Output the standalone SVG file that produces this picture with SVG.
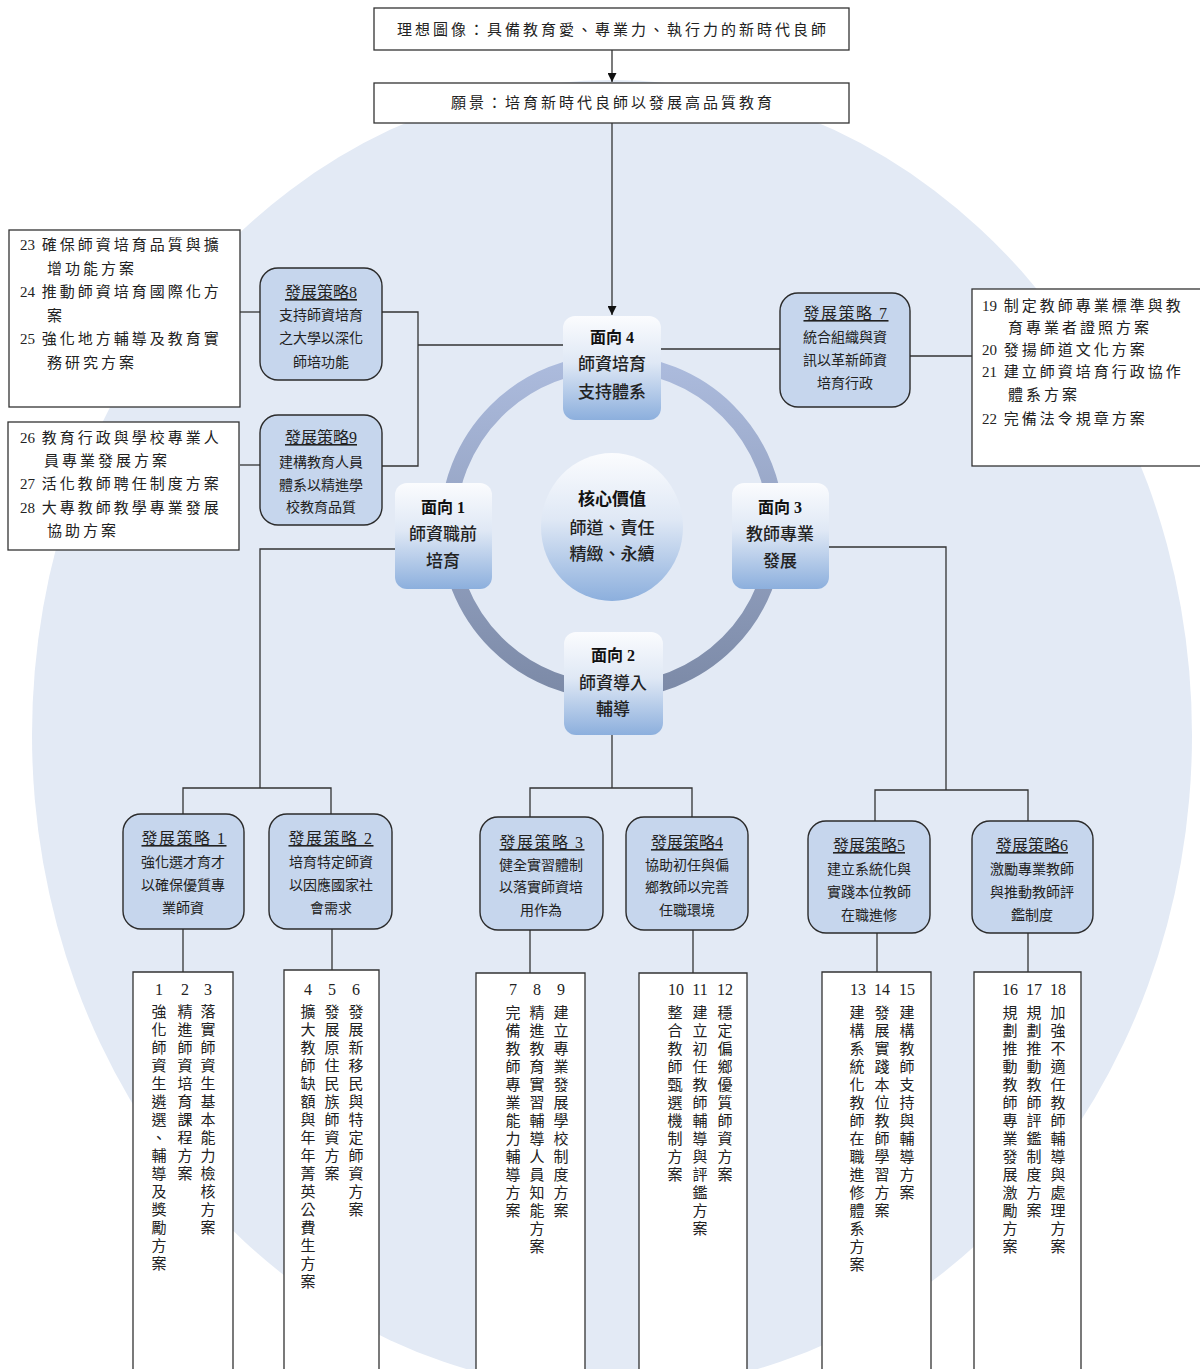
<svg xmlns="http://www.w3.org/2000/svg" width="1200" height="1369" viewBox="0 0 1200 1369">
<defs>
<linearGradient id="faceGrad" x1="0" y1="0" x2="0" y2="1">
<stop offset="0" stop-color="#fbfcfe"/>
<stop offset="0.45" stop-color="#dfe8f5"/>
<stop offset="1" stop-color="#8cafdd"/>
</linearGradient>
<linearGradient id="ringGrad" gradientUnits="userSpaceOnUse" x1="0" y1="363" x2="0" y2="691">
<stop offset="0" stop-color="#acbbdd"/>
<stop offset="1" stop-color="#7c8aa7"/>
</linearGradient>
<marker id="arr" viewBox="0 0 10 10" refX="10" refY="5" markerWidth="9" markerHeight="9" markerUnits="userSpaceOnUse" orient="auto">
<path d="M0,0 L10,5 L0,10 z" fill="#111"/>
</marker>
<style>
.box{fill:#fff;stroke:#333;stroke-width:1.3}
.strat{fill:#c6d6ed;stroke:#2b2b2b;stroke-width:1.4}
.face{fill:url(#faceGrad)}
.ln{stroke:#333;stroke-width:1.3;fill:none}
.ming{font-family:"Liberation Serif","Noto Sans CJK TC",serif;fill:#222}
.list{font-size:15px;letter-spacing:3px}
.n{letter-spacing:0}
.hd{font-size:15px;letter-spacing:3px;text-anchor:middle}
.stt{font-family:"Liberation Serif","Noto Sans CJK TC",serif;fill:#222;font-size:16px;text-anchor:middle;text-decoration:underline}
.sp{letter-spacing:1.5px}
.stb{font-family:"Noto Sans CJK TC",sans-serif;fill:#222;font-size:14px;text-anchor:middle}
.ft{font-family:"Liberation Serif","Noto Sans CJK TC",sans-serif;font-weight:bold;font-size:16px;text-anchor:middle;fill:#111}
.fb{font-family:"Noto Sans CJK TC",sans-serif;font-weight:500;font-size:17px;text-anchor:middle;fill:#222}
.vn{font-family:"Liberation Serif",serif;font-size:16px;text-anchor:middle;fill:#222}
.vt{font-family:"Noto Sans CJK TC",sans-serif;font-size:15px;letter-spacing:3px;writing-mode:vertical-rl;fill:#222}
</style>
</defs>

<g id="background">
<ellipse cx="612" cy="735" rx="580" ry="655" fill="#e3eaf5"/>
<circle cx="612" cy="527" r="164" fill="none" stroke="url(#ringGrad)" stroke-width="16"/>
</g>

<g id="connectors">
<line class="ln" x1="612" y1="50" x2="612" y2="82" marker-end="url(#arr)"/>
<line class="ln" x1="612" y1="123" x2="612" y2="315" marker-end="url(#arr)"/>
<polyline class="ln" points="240,312 260,312"/>
<polyline class="ln" points="240,465 260,465"/>
<polyline class="ln" points="382,312 418,312 418,466 382,466"/>
<polyline class="ln" points="418,345 563,345"/>
<polyline class="ln" points="661,349 780,349"/>
<polyline class="ln" points="910,356 972,356"/>
<polyline class="ln" points="395,549 260,549 260,788"/>
<polyline class="ln" points="183,814 183,788 331,788 331,814"/>
<polyline class="ln" points="612,735 612,788"/>
<polyline class="ln" points="530,817 530,788 692,788 692,817"/>
<polyline class="ln" points="829,547 946,547 946,790"/>
<polyline class="ln" points="875,821 875,790 1028,790 1028,821"/>
<line class="ln" x1="183" y1="929" x2="183" y2="972"/>
<line class="ln" x1="332" y1="929" x2="332" y2="970"/>
<line class="ln" x1="530" y1="930" x2="530" y2="973"/>
<line class="ln" x1="693" y1="930" x2="693" y2="973"/>
<line class="ln" x1="877" y1="933" x2="877" y2="972"/>
<line class="ln" x1="1028" y1="933" x2="1028" y2="972"/>
</g>

<g id="ideal">
<rect class="box" x="374" y="8" width="475" height="42"/>
<text class="ming hd" x="613" y="34.5">理想圖像：具備教育愛、專業力、執行力的新時代良師</text>
</g>
<g id="vision">
<rect class="box" x="374" y="83" width="475" height="40"/>
<text class="ming hd" x="613" y="107.5">願景：培育新時代良師以發展高品質教育</text>
</g>

<g id="core">
<ellipse cx="612" cy="527" rx="71" ry="74" fill="url(#faceGrad)"/>
<text class="ft" x="612" y="505" style="font-size:17px">核心價值</text>
<text class="fb" x="612" y="533.5">師道、責任</text>
<text class="fb" x="612" y="559.5">精緻、永續</text>
</g>

<g id="face4">
<rect class="face" x="563" y="316" width="98" height="104" rx="12"/>
<text class="ft" x="612" y="343">面向 4</text>
<text class="fb" x="612" y="369.5">師資培育</text>
<text class="fb" x="612" y="398">支持體系</text>
</g>
<g id="face1">
<rect class="face" x="395" y="483" width="97" height="106" rx="12"/>
<text class="ft" x="443" y="513">面向 1</text>
<text class="fb" x="443" y="539.5">師資職前</text>
<text class="fb" x="443" y="566.5">培育</text>
</g>
<g id="face3">
<rect class="face" x="732" y="483" width="97" height="106" rx="12"/>
<text class="ft" x="780" y="513">面向 3</text>
<text class="fb" x="780" y="539.5">教師專業</text>
<text class="fb" x="780" y="566.5">發展</text>
</g>
<g id="face2">
<rect class="face" x="564" y="632" width="99" height="103" rx="12"/>
<text class="ft" x="613" y="661">面向 2</text>
<text class="fb" x="613" y="688.5">師資導入</text>
<text class="fb" x="613" y="714.5">輔導</text>
</g>

<g id="list23">
<rect class="box" x="9" y="230" width="231" height="177"/>
<text class="ming list" x="20" y="249.5"><tspan class="n">23</tspan> 確保師資培育品質與擴</text>
<text class="ming list" x="47" y="273.5">增功能方案</text>
<text class="ming list" x="20" y="296.5"><tspan class="n">24</tspan> 推動師資培育國際化方</text>
<text class="ming list" x="47" y="320.5">案</text>
<text class="ming list" x="20" y="343.5"><tspan class="n">25</tspan> 強化地方輔導及教育實</text>
<text class="ming list" x="47" y="367.5">務研究方案</text>
</g>
<g id="list26">
<rect class="box" x="8" y="422" width="231" height="128"/>
<text class="ming list" x="20" y="442.5"><tspan class="n">26</tspan> 教育行政與學校專業人</text>
<text class="ming list" x="44" y="465.5">員專業發展方案</text>
<text class="ming list" x="20" y="488.5"><tspan class="n">27</tspan> 活化教師聘任制度方案</text>
<text class="ming list" x="20" y="512.5"><tspan class="n">28</tspan> 大專教師教學專業發展</text>
<text class="ming list" x="47" y="535.5">協助方案</text>
</g>
<g id="list19">
<rect class="box" x="972" y="289" width="240" height="177"/>
<text class="ming list" x="982" y="310.5"><tspan class="n">19</tspan> 制定教師專業標準與教</text>
<text class="ming list" x="1008" y="332.5">育專業者證照方案</text>
<text class="ming list" x="982" y="354.5"><tspan class="n">20</tspan> 發揚師道文化方案</text>
<text class="ming list" x="982" y="376.5"><tspan class="n">21</tspan> 建立師資培育行政協作</text>
<text class="ming list" x="1008" y="399.5">體系方案</text>
<text class="ming list" x="982" y="423.5"><tspan class="n">22</tspan> 完備法令規章方案</text>
</g>

<g id="strategy8">
<rect class="strat" x="260" y="268" width="122" height="112" rx="18"/>
<text class="stt" x="321" y="298">發展策略8</text>
<text class="stb" x="321" y="320">支持師資培育</text>
<text class="stb" x="321" y="343">之大學以深化</text>
<text class="stb" x="321" y="367">師培功能</text>
</g>
<g id="strategy9">
<rect class="strat" x="260" y="415" width="122" height="110" rx="18"/>
<text class="stt" x="321" y="443">發展策略9</text>
<text class="stb" x="321" y="467">建構教育人員</text>
<text class="stb" x="321" y="490">體系以精進學</text>
<text class="stb" x="321" y="512">校教育品質</text>
</g>
<g id="strategy7">
<rect class="strat" x="780" y="293" width="130" height="114" rx="18"/>
<text class="stt sp" x="846" y="319">發展策略 7</text>
<text class="stb" x="845" y="342">統合組織與資</text>
<text class="stb" x="845" y="365">訊以革新師資</text>
<text class="stb" x="845" y="388">培育行政</text>
</g>

<g id="strategy1">
<rect class="strat" x="123" y="814" width="121" height="115" rx="18"/>
<text class="stt sp" x="184" y="844">發展策略 1</text>
<text class="stb" x="183" y="867">強化選才育才</text>
<text class="stb" x="183" y="890">以確保優質專</text>
<text class="stb" x="183" y="913">業師資</text>
</g>
<g id="strategy2">
<rect class="strat" x="269" y="814" width="123" height="115" rx="18"/>
<text class="stt sp" x="331" y="844">發展策略 2</text>
<text class="stb" x="331" y="867">培育特定師資</text>
<text class="stb" x="331" y="890">以因應國家社</text>
<text class="stb" x="331" y="913">會需求</text>
</g>
<g id="strategy3">
<rect class="strat" x="480" y="817" width="123" height="113" rx="18"/>
<text class="stt sp" x="542" y="848">發展策略 3</text>
<text class="stb" x="541" y="870">健全實習體制</text>
<text class="stb" x="541" y="892">以落實師資培</text>
<text class="stb" x="541" y="915">用作為</text>
</g>
<g id="strategy4">
<rect class="strat" x="626" y="817" width="122" height="113" rx="18"/>
<text class="stt" x="687" y="848">發展策略4</text>
<text class="stb" x="687" y="870">協助初任與偏</text>
<text class="stb" x="687" y="892">鄉教師以完善</text>
<text class="stb" x="687" y="915">任職環境</text>
</g>
<g id="strategy5">
<rect class="strat" x="808" y="821" width="122" height="112" rx="18"/>
<text class="stt" x="869" y="851">發展策略5</text>
<text class="stb" x="869" y="874">建立系統化與</text>
<text class="stb" x="869" y="897">實踐本位教師</text>
<text class="stb" x="869" y="920">在職進修</text>
</g>
<g id="strategy6">
<rect class="strat" x="972" y="821" width="121" height="112" rx="18"/>
<text class="stt" x="1032" y="851">發展策略6</text>
<text class="stb" x="1032" y="874">激勵專業教師</text>
<text class="stb" x="1032" y="897">與推動教師評</text>
<text class="stb" x="1032" y="920">鑑制度</text>
</g>

<g id="plans1-3">
<path class="box" d="M133,1370 V972 H233 V1370"/>
<text class="vn" x="159" y="995">1</text>
<text class="vn" x="185" y="995">2</text>
<text class="vn" x="208" y="995">3</text>
<text class="vt" x="159" y="1003.5">強化師資生遴選、輔導及獎勵方案</text>
<text class="vt" x="185" y="1003.5">精進師資培育課程方案</text>
<text class="vt" x="208" y="1003.5">落實師資生基本能力檢核方案</text>
</g>
<g id="plans4-6">
<path class="box" d="M284,1370 V970 H379 V1370"/>
<text class="vn" x="308" y="995">4</text>
<text class="vn" x="332" y="995">5</text>
<text class="vn" x="356" y="995">6</text>
<text class="vt" x="308" y="1003.5">擴大教師缺額與年年菁英公費生方案</text>
<text class="vt" x="332" y="1003.5">發展原住民族師資方案</text>
<text class="vt" x="356" y="1003.5">發展新移民與特定師資方案</text>
</g>
<g id="plans7-9">
<path class="box" d="M476,1370 V973 H585 V1370"/>
<text class="vn" x="513" y="995">7</text>
<text class="vn" x="537" y="995">8</text>
<text class="vn" x="561" y="995">9</text>
<text class="vt" x="513" y="1004.5">完備教師專業能力輔導方案</text>
<text class="vt" x="537" y="1004.5">精進教育實習輔導人員知能方案</text>
<text class="vt" x="561" y="1004.5">建立專業發展學校制度方案</text>
</g>
<g id="plans10-12">
<path class="box" d="M639,1370 V973 H747 V1370"/>
<text class="vn" x="676" y="995">10</text>
<text class="vn" x="700" y="995">11</text>
<text class="vn" x="725" y="995">12</text>
<text class="vt" x="675" y="1004.5">整合教師甄選機制方案</text>
<text class="vt" x="700" y="1004.5">建立初任教師輔導與評鑑方案</text>
<text class="vt" x="725" y="1004.5">穩定偏鄉優質師資方案</text>
</g>
<g id="plans13-15">
<path class="box" d="M822,1370 V972 H931 V1370"/>
<text class="vn" x="858" y="995">13</text>
<text class="vn" x="882" y="995">14</text>
<text class="vn" x="907" y="995">15</text>
<text class="vt" x="857" y="1004.5">建構系統化教師在職進修體系方案</text>
<text class="vt" x="882" y="1004.5">發展實踐本位教師學習方案</text>
<text class="vt" x="907" y="1004.5">建構教師支持與輔導方案</text>
</g>
<g id="plans16-18">
<path class="box" d="M974,1370 V972 H1081 V1370"/>
<text class="vn" x="1010" y="995">16</text>
<text class="vn" x="1034" y="995">17</text>
<text class="vn" x="1058" y="995">18</text>
<text class="vt" x="1010" y="1004.5">規劃推動教師專業發展激勵方案</text>
<text class="vt" x="1034" y="1004.5">規劃推動教師評鑑制度方案</text>
<text class="vt" x="1058" y="1004.5">加強不適任教師輔導與處理方案</text>
</g>
</svg>
